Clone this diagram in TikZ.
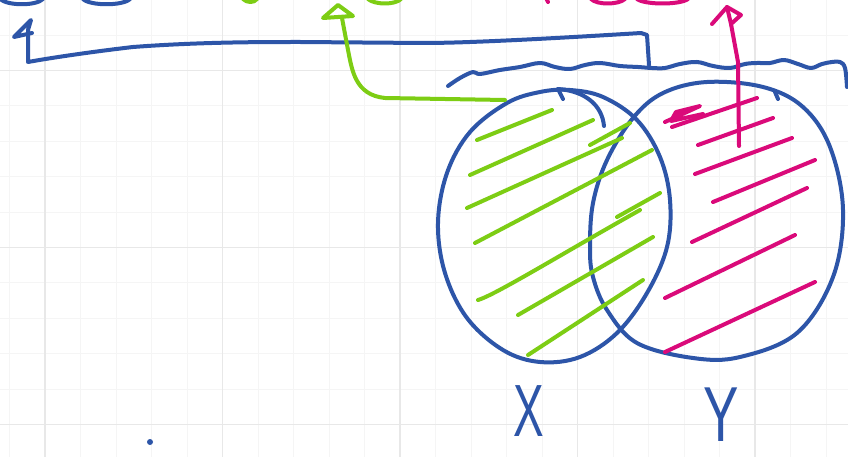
\documentclass[tikz,border=0pt]{standalone}
\usepackage{fontspec}
\setmainfont{Liberation Sans}
\definecolor{inkblue}{RGB}{45,85,168}
\definecolor{inkgreen}{RGB}{125,205,20}
\definecolor{inkpink}{RGB}{218,10,122}
\definecolor{gridmin}{RGB}{245,245,245}
\definecolor{gridmaj}{RGB}{232,232,232}
\tikzset{
  pen/.style={line width=4pt,line cap=round,line join=round},
  bluepen/.style={pen,draw=inkblue},
  greenpen/.style={pen,draw=inkgreen},
  pinkpen/.style={pen,draw=inkpink},
  minorgrid/.style={draw=gridmin,line width=1pt},
  majorgrid/.style={draw=gridmaj,line width=1.5pt},
  lbl/.style={text=inkblue,inner sep=0pt,anchor=base,transform shape}
}
\begin{document}
\begin{tikzpicture}[x=1pt,y=-1pt]
\useasboundingbox (0,0) rectangle (848,457);
\fill[white] (0,0) rectangle (848,457);
% grid
\foreach \i in {0,...,23} {\draw[minorgrid] ({9.5+35.5*\i},0) -- ++(0,457);}
\foreach \i in {0,...,13} {\draw[minorgrid] (0,{-0.3+35.4*\i}) -- ++(848,0);}
\foreach \i in {0,...,4} {\draw[majorgrid] ({45+177.5*\i},0) -- ++(0,457);}
\foreach \i in {0,...,2} {\draw[majorgrid] (0,{70.5+177*\i}) -- ++(848,0);}

% cut-off strokes at the top edge
\draw[bluepen] (0,-1) .. controls (8,6) and (36,6) .. (43,-1);
\draw[bluepen] (83,-1) .. controls (90,6) and (123,6) .. (130,-1);
\draw[greenpen] (243,-1) .. controls (247,3) and (254,3) .. (257,-1);
\draw[greenpen] (368,-1) .. controls (375,5) and (395,5) .. (401,-1);
\draw[pinkpen] (546,-2) -- (548,2);
\draw[pinkpen] (591,-1) .. controls (597,5) and (618,5) .. (625,-1);
\draw[pinkpen] (637,-1) .. controls (645,5) and (680,5) .. (688,-1);

% circle X
\draw[bluepen] plot[smooth cycle,tension=0.6] coordinates {
 (540,92) (507,103) (470,132) (447,173) (438,223) (445,273) (467,318)
 (503,350) (540,362) (580,357) (617,333) (647,293) (667,247) (670,200)
 (660,157) (637,120) (603,97) (570,90)};
\draw[bluepen] (558,89) .. controls (585,91) and (602,105) .. (604,126);
\draw[bluepen] (558,89) -- (563,99);

% circle Y
\draw[bluepen] plot[smooth cycle,tension=0.6] coordinates {
 (590,247) (593,203) (607,160) (633,118) (663,93) (707,82) (763,87)
 (803,107) (830,147) (843,210) (833,277) (797,333) (740,357) (693,358)
 (637,343) (607,310) (593,277)};
\draw[bluepen] (775,92) -- (778,99);

% wavy bracket over both sets
\draw[bluepen] plot[smooth,tension=0.6] coordinates {
 (448,86) (460,78) (473,72) (480,74) (500,70) (520,67) (540,63) (555,67)
 (570,69) (585,65) (600,63) (620,66) (638,67) (652,68) (665,68) (680,64)
 (697,62) (713,66) (730,68) (745,64) (757,63) (770,63) (784,60) (798,64)
 (811,68) (822,64) (832,62) (840,62) (845,68) (847,87)};

% green hatching
\draw[greenpen] (477,140) -- (552,110);
\draw[greenpen] (470,175) -- (593,120);
\draw[greenpen] (467,208) -- (622,138);
\draw[greenpen] (590,145) -- (630,123);
\draw[greenpen] (475,243) -- (652,150);
\draw[greenpen] (478,300) .. controls (495,295) and (560,255) .. (640,210);
\draw[greenpen] (617,217) -- (660,193);
\draw[greenpen] (518,315) -- (653,237);
\draw[greenpen] (528,355) -- (643,280);

% pink hatching
\draw[pinkpen] (665,122) -- (700,106) -- (676,112) -- (671,121) -- (703,114);
\draw[pinkpen] (672,127) -- (757,98);
\draw[pinkpen] (698,145) -- (773,118);
\draw[pinkpen] (695,174) -- (792,138);
\draw[pinkpen] (713,202) -- (815,160);
\draw[pinkpen] (692,242) -- (807,188);
\draw[pinkpen] (665,298) -- (795,235);
\draw[pinkpen] (665,352) -- (815,282);

% named ends of the connectors
\coordinate (bS) at (649,65);
\coordinate (bC) at (647,35);
\coordinate (bL) at (28,62);
\coordinate (bT) at (28,30);
\coordinate (gS) at (505,100);
\coordinate (gT) at (342,18);
\coordinate (pS) at (739,146);
\coordinate (pT) at (731,24);

% blue connector (bracket) with hand-drawn head
\draw[bluepen] (bS) -- (bC) -- (641,33) .. controls (560,38) and (470,43) .. (424,43)
  -- (300,42) .. controls (260,42) and (200,42) .. (133,47)
  .. controls (90,52) and (50,58) .. (bL) -- (bT);
\draw[bluepen] (bT) -- (31,20) -- (14,37) -- (32,33);

% green connector
\draw[greenpen] (gS) -- (385,98) .. controls (355,95) and (352,70) .. (348,50) -- (gT);
\draw[greenpen] (323,18) -- (338,5) -- (353,16) -- cycle;

% pink connector
\draw[pinkpen] (pS) -- (738,62) -- (pT);
\draw[pinkpen] (pT) -- (727,7) -- (712,24);
\draw[pinkpen] (727,7) -- (741,15) -- (pT);

% dot
\fill[inkblue] (150,442) circle (3pt);

% labels
\node[lbl,xscale=0.62,font=\fontsize{74}{74}\selectfont] (xl) at (529,436) {X};
\node[lbl,xscale=0.68,font=\fontsize{78}{78}\selectfont] (yl) at (721,441) {Y};
\end{tikzpicture}
\end{document}
